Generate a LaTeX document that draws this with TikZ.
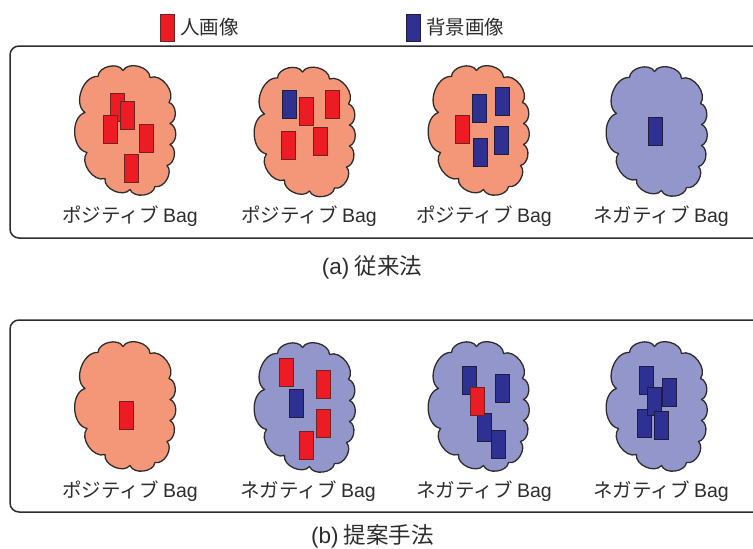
\documentclass[tikz,border=0pt]{standalone}
\usepackage{fontspec}
\newfontfamily\jp{Noto Sans CJK JP}
\newfontfamily\latf{Liberation Sans}
\definecolor{salmon}{RGB}{244,151,121}
\definecolor{lav}{RGB}{146,150,202}
\definecolor{rfill}{RGB}{237,28,36}
\definecolor{rline}{RGB}{110,35,35}
\definecolor{bfill}{RGB}{46,49,146}
\definecolor{bline}{RGB}{30,30,60}
\definecolor{ink}{RGB}{45,45,45}
\newcommand{\Bag}{{\latf Bag}}
\tikzset{
  cloudbag/.pic={
    \path[pic actions] (-2,-60) to[bend left=75] (25,-53) to[bend left=75] (44,-28)
      to[bend left=70] (45,-7) to[bend left=70] (45,14) to[bend left=70] (42,35)
      to[bend left=75] (30,56) to[bend left=75] (5,59) to[bend left=75] (-20,48)
      to[bend left=75] (-38,22) to[bend left=75] (-40,-18) to[bend left=75] (-27,-54)
      to[bend left=75] (-2,-60) -- cycle;
  },
  bagline/.style={draw=ink, line width=1.3pt, line join=round},
  posbag/.style={bagline, fill=salmon},
  negbag/.style={bagline, fill=lav},
  rbox/.style={draw=rline, fill=rfill, minimum width=14pt, minimum height=28pt, inner sep=0pt, line width=0.8pt},
  bbox/.style={draw=bline, fill=bfill, minimum width=14pt, minimum height=28pt, inner sep=0pt, line width=0.8pt},
  lbl/.style={font=\jp\fontsize{19.5}{22}\selectfont, text=ink, inner sep=0pt},
  captext/.style={font=\jp\fontsize{22.5}{25}\selectfont, text=ink, inner sep=0pt},
  frame/.style={draw=ink, line width=1.5pt, rounded corners=9pt}
}
\begin{document}
\begin{tikzpicture}[x=1pt,y=-1pt]
\clip (0,0) rectangle (753,549);
\fill[white] (0,0) rectangle (753,549);
% legend
\node[rbox, minimum height=27pt] (legr) at (167.5,28) {};
\node[lbl, anchor=west] (legrt) at (180,27) {人画像};
\node[bbox, minimum height=27pt] (legb) at (413,28) {};
\node[lbl, anchor=west] (legbt) at (426,27) {背景画像};
% frames
\draw[frame] (10,46) rectangle (775,238);
\draw[frame] (10,320) rectangle (775,512);
% ---- top row ----
\pic[posbag] (a1) at (125,130.5) {cloudbag};
\node[rbox] (a1r1) at (117,107) {};
\node[rbox] (a1r2) at (127,115) {};
\node[rbox] (a1r3) at (110,129.5) {};
\node[rbox] (a1r4) at (146,138) {};
\node[rbox] (a1r5) at (131,168) {};
\node[lbl] (a1t) at (130,216) {ポジティブ \Bag};

\pic[posbag] (a2) at (304.5,132) {cloudbag};
\node[bbox] (a2b1) at (289,104) {};
\node[rbox] (a2r1) at (306,111) {};
\node[rbox] (a2r2) at (332,104) {};
\node[rbox] (a2r3) at (288,145) {};
\node[rbox] (a2r4) at (320,141) {};
\node[lbl] (a2t) at (309,216) {ポジティブ \Bag};

\pic[posbag] (a3) at (478.5,130.5) {cloudbag};
\node[rbox] (a3r1) at (462,129) {};
\node[bbox] (a3b1) at (479,108) {};
\node[bbox] (a3b2) at (502,101) {};
\node[bbox] (a3b3) at (480,152) {};
\node[bbox] (a3b4) at (501,140) {};
\node[lbl] (a3t) at (484,216) {ポジティブ \Bag};

\pic[negbag] (a4) at (656.5,131.5) {cloudbag};
\node[bbox] (a4b1) at (655,131) {};
\node[lbl] (a4t) at (661,216) {ネガティブ \Bag};

\node[captext] (capa) at (372,267) {{\latf (a)} 従来法};
% ---- bottom row ----
\pic[posbag] (b1) at (125,406.5) {cloudbag};
\node[rbox] (b1r1) at (126,415) {};
\node[lbl] (b1t) at (130,491) {ポジティブ \Bag};

\pic[negbag] (b2) at (304.5,407.5) {cloudbag};
\node[rbox] (b2r1) at (286,372) {};
\node[bbox] (b2b1) at (296,403) {};
\node[rbox] (b2r2) at (323,384) {};
\node[rbox] (b2r3) at (323,423) {};
\node[rbox] (b2r4) at (306,445) {};
\node[lbl] (b2t) at (308,491) {ネガティブ \Bag};

\pic[negbag] (b3) at (478.5,406.5) {cloudbag};
\node[bbox] (b3b1) at (469,380) {};
\node[bbox] (b3b2) at (502,388) {};
\node[bbox] (b3b3) at (484,427) {};
\node[bbox] (b3b4) at (498,444) {};
\node[rbox] (b3r1) at (477,401) {};
\node[lbl] (b3t) at (484,491) {ネガティブ \Bag};

\pic[negbag] (b4) at (656.5,406.5) {cloudbag};
\node[bbox] (b4b1) at (646,380) {};
\node[bbox] (b4b2) at (669,392) {};
\node[bbox] (b4b3) at (644,423) {};
\node[bbox] (b4b4) at (654,401) {};
\node[bbox] (b4b5) at (661,425) {};
\node[lbl] (b4t) at (661,491) {ネガティブ \Bag};

\node[captext] (capb) at (372.5,536) {{\latf (b)} 提案手法};
\end{tikzpicture}
\end{document}
